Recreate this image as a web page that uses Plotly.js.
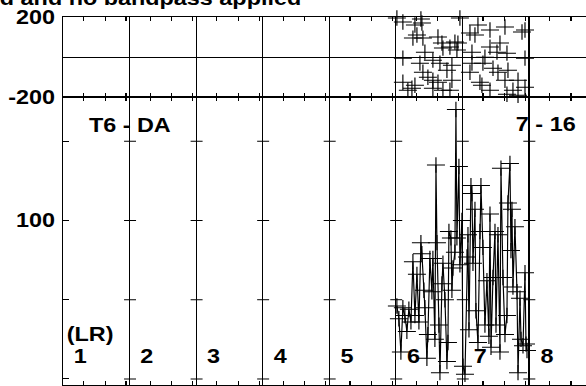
<!DOCTYPE html>
<html>
<head>
<meta charset="utf-8">
<script src="https://cdn.plot.ly/plotly-3.0.1.min.js"></script>
<style>
html,body{margin:0;padding:0;background:#fff;overflow:hidden;}
#chart{width:501px;height:386px;transform:scaleX(1.1697);transform-origin:0 0;}
</style>
</head>
<body>
<div id="chart"></div>
<script>
// Bottom panel (amplitude trace), x in column units (column k starts at k-1)
const bottomX = [5.015,5.045,5.075,5.105,5.135,5.165,5.195,5.226,5.256,5.286,
  5.316,5.346,5.376,5.391,5.421,5.436,5.466,5.481,5.511,5.541,
  5.556,5.586,5.602,5.617,5.647,5.662,5.692,5.707,5.737,5.767,
  5.782,5.797,5.827,5.842,5.857,5.887,5.902,5.917,5.947,5.962,
  5.992,6.008,6.038,6.068,6.083,6.098,6.128,6.143,6.158,6.188,
  6.203,6.233,6.263,6.278,6.308,6.338,6.368,6.398,6.414,6.429,
  6.459,6.489,6.504,6.534,6.564,6.579,6.609,6.639,6.669,6.684,
  6.714,6.729,6.744,6.759,6.789,6.820,6.835,6.865,6.880,6.910,
  6.940,6.955,6.970];
const bottomY = [46,38,17,45,40,30,44,36,74,40,
  66,36,86,79,56,45,13,28,76,55,
  76,25,135,86,34,4,60,73,50,11,
  23,93,89,56,70,80,170,89,134,72,
  100,8,3,77,91,31,122,117,73,107,
  43,23,93,122,83,34,62,27,104,20,
  64,93,34,91,17,133,64,28,40,111,
  136,81,107,58,96,55,4,51,25,21,
  67,22,18];

// Top panel (scatter of + markers)
const topXpx = [403,415,422,413,417,423,438,442,443,450,455,458,457,425,433,403,420,423,440,452,
  447,452,433,428,438,403,408,412,415,433,450,443,470,478,475,490,505,522,525,500,
  490,472,485,497,507,525,472,470,483,493,498,508,505,518,480,490,507,513,518,525,
  482,456,397,421,460];
const topY = [175,160,170,95,110,95,100,70,45,50,75,70,35,25,-15,-5,-30,-75,-30,-40,
  -65,-115,-115,-100,-125,-125,-165,-155,-140,-155,-165,-165,120,160,110,135,150,125,135,70,
  50,25,0,25,20,-5,-30,-75,-30,-55,-75,-65,-115,-115,-125,-165,-185,-165,-190,-150,
  -140,-230,195,190,195];
const topX = topXpx.map(p => +((p - 63.5) / 66.5).toFixed(3));

const columnLines = [1,2,3,4,5,6,7];
const columnLabels = ['1','2','3','4','5','6','7','8'];
const crossLevels = [0,50,100,150];
const minorOffsets = [0.31,0.63,0.945];

const minorTicks = [];
for (let k = 0; k < 8; k++) minorOffsets.forEach(o => { if (k + o < 7.85) minorTicks.push(k + o); });

const FONT = {family:'Liberation Sans, Arial, sans-serif', size:20, color:'#000', weight:'bold'};
const TICKFONT = {family:'Liberation Sans, Arial, sans-serif', size:20, color:'#000', weight:'bold'};
const XR = [0, 7.857];
const SPLIT = 0.7818;

const markerStyle = {symbol:'cross-thin', size:11, color:'#000', line:{color:'#000', width:1}};

const traces = [
  {type:'scatter', mode:'lines+markers', x:bottomX, y:bottomY, xaxis:'x', yaxis:'y',
   line:{color:'#000', width:1}, marker:markerStyle, cliponaxis:false, hoverinfo:'skip'},
  {type:'scatter', mode:'markers', x:topX, y:topY, xaxis:'x2', yaxis:'y2',
   marker:markerStyle, cliponaxis:false, hoverinfo:'skip'}
];

function xax(anchor){
  return {range:XR, anchor:anchor, domain:[0,1], showline:true, linecolor:'#000', linewidth:1,
    mirror:'ticks', tickvals:columnLines, ticks:'', showticklabels:false,
    showgrid:true, gridcolor:'#000', gridwidth:1, zeroline:false,
    minor:{tickvals:minorTicks, ticks:'inside', ticklen:4, tickcolor:'#000', tickwidth:1, showgrid:false}};
}

const shapes = [];
columnLines.forEach(c => crossLevels.forEach(v => {
  shapes.push({type:'line', xref:'x', yref:'y', x0:c-0.085, x1:c+0.095, y0:v, y1:v,
    line:{color:'#000', width:1}});
}));

const annotations = [];
columnLabels.forEach((t,i) => annotations.push({text:t, xref:'x', yref:'y', x:i+0.13, y:14.5,
  xanchor:'left', yanchor:'middle', showarrow:false, font:FONT}));
annotations.push({text:'(LR)', xref:'x', yref:'y', x:0.02, y:28.5, xanchor:'left', yanchor:'middle', showarrow:false, font:FONT});
annotations.push({text:'T6 - DA', xref:'x', yref:'y', x:0.35, y:160, xanchor:'left', yanchor:'middle', showarrow:false, font:FONT});
annotations.push({text:'7 - 16', xref:'x', yref:'y', x:6.77, y:161, xanchor:'left', yanchor:'middle', showarrow:false, font:FONT});
annotations.push({text:'Mean removed and no bandpass applied', xref:'x', yref:'paper', x:3.62, y:1,
  xanchor:'right', yanchor:'bottom', yshift:6, showarrow:false, font:FONT});

const layout = {
  width:501, height:386,
  margin:{l:54.3, r:0, t:17, b:1, pad:0},
  paper_bgcolor:'#fff', plot_bgcolor:'#fff',
  showlegend:false,
  xaxis:xax('y'),
  xaxis2:xax('y2'),
  yaxis:{domain:[0,SPLIT], range:[-3.8,177.7], tickvals:crossLevels, ticktext:['0','','100',''],
    ticks:'inside', ticklen:5, tickcolor:'#000', showline:true, linecolor:'#000', mirror:false,
    showgrid:false, zeroline:false, tickfont:TICKFONT, ticklabelstandoff:2},
  yaxis2:{domain:[SPLIT,1], range:[-200,200], tickvals:[-200,200], ticktext:['-200','200'],
    ticks:'', showline:true, linecolor:'#000', mirror:false, showgrid:false,
    zeroline:true, zerolinecolor:'#000', zerolinewidth:1, tickfont:TICKFONT, ticklabelstandoff:2},
  shapes:shapes,
  annotations:annotations
};

Plotly.newPlot('chart', traces, layout, {staticPlot:true, displayModeBar:false});
</script>
</body>
</html>
